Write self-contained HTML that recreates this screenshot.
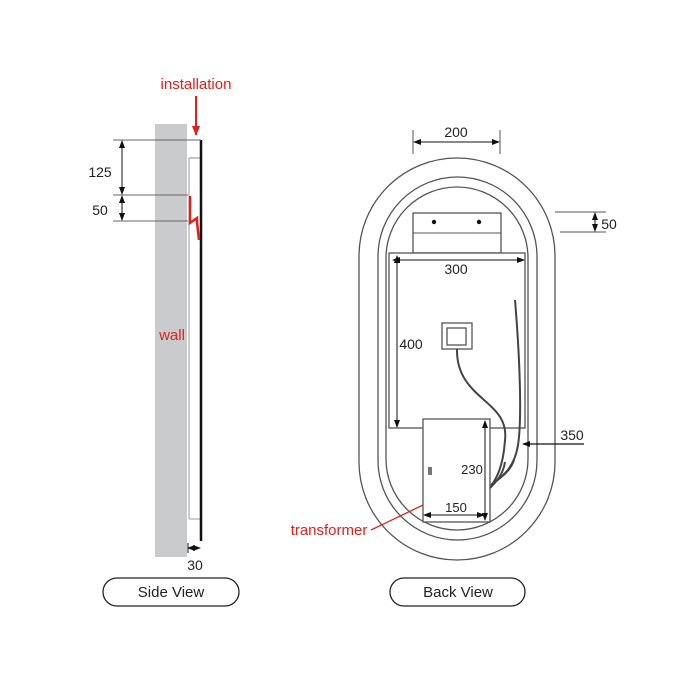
<!DOCTYPE html>
<html><head><style>body{margin:0;background:#fff}svg{display:block}</style></head><body>
<svg width="700" height="700" viewBox="0 0 700 700" xmlns="http://www.w3.org/2000/svg" font-family="Liberation Sans, sans-serif">
<defs>
<marker id="a" markerWidth="8" markerHeight="8" refX="7" refY="4" orient="auto-start-reverse" markerUnits="userSpaceOnUse"><path d="M0,1 L8,4 L0,7 Z" fill="#111"/></marker>
<marker id="r" markerWidth="10" markerHeight="10" refX="9" refY="5" orient="auto" markerUnits="userSpaceOnUse"><path d="M0,1 L10,5 L0,9 Z" fill="#e0201c"/></marker>
</defs>
<!-- Side view -->
<rect x="155" y="124" width="32" height="433" fill="#c9cbcd"/>
<polyline points="189,158 201,158" stroke="#888" fill="none"/>
<line x1="189" y1="158" x2="189" y2="519" stroke="#999"/>
<line x1="189" y1="519" x2="201" y2="519" stroke="#999"/>
<line x1="201" y1="140" x2="201" y2="541" stroke="#111" stroke-width="2.5"/>
<line x1="113" y1="140" x2="201" y2="140" stroke="#666"/>
<line x1="113" y1="195" x2="188" y2="195" stroke="#666"/>
<line x1="113" y1="221" x2="188" y2="221" stroke="#666"/>
<line x1="122" y1="141" x2="122" y2="194" stroke="#111" marker-start="url(#a)" marker-end="url(#a)"/>
<line x1="122" y1="196" x2="122" y2="220" stroke="#111" marker-start="url(#a)" marker-end="url(#a)"/>
<text x="100" y="177" font-size="14" text-anchor="middle" fill="#222">125</text>
<text x="100" y="215" font-size="14" text-anchor="middle" fill="#222">50</text>
<polyline points="190,196 190,223 197,218 197,222 199,240" stroke="#e0201c" stroke-width="2.5" fill="none"/>
<text x="196" y="89" font-size="15" text-anchor="middle" fill="#e0201c">installation</text>
<line x1="196" y1="96" x2="196" y2="135" stroke="#e0201c" stroke-width="2" marker-end="url(#r)"/>
<text x="172" y="340" font-size="15" text-anchor="middle" fill="#e0201c">wall</text>
<line x1="188" y1="548" x2="200" y2="548" stroke="#111" stroke-width="0.8" marker-start="url(#a)" marker-end="url(#a)"/>
<line x1="188" y1="543" x2="188" y2="553" stroke="#111"/>
<text x="195" y="570" font-size="14" text-anchor="middle" fill="#222">30</text>
<rect x="103" y="578" width="136" height="28" rx="14" fill="#fff" stroke="#222" stroke-width="1.3"/>
<text x="171" y="597" font-size="15" text-anchor="middle" fill="#222">Side View</text>
<!-- Back view -->
<rect x="359" y="158" width="196" height="402" rx="98" fill="none" stroke="#555" stroke-width="1.3"/>
<rect x="378" y="177" width="159" height="363" rx="79.5" fill="none" stroke="#555" stroke-width="1.3"/>
<rect x="386" y="187" width="142" height="343" rx="71" fill="none" stroke="#555" stroke-width="1.3"/>
<line x1="413" y1="130" x2="413" y2="154" stroke="#555"/>
<line x1="500" y1="130" x2="500" y2="154" stroke="#555"/>
<line x1="414" y1="142" x2="499" y2="142" stroke="#111" marker-start="url(#a)" marker-end="url(#a)"/>
<text x="456" y="137" font-size="14" text-anchor="middle" fill="#222">200</text>
<rect x="413" y="213" width="88" height="40" fill="#fff" stroke="#555" stroke-width="1.3"/>
<line x1="413" y1="233" x2="501" y2="233" stroke="#555"/>
<circle cx="434" cy="222" r="2.2" fill="#111"/><circle cx="479" cy="222" r="2.2" fill="#111"/>
<line x1="555" y1="212" x2="606" y2="212" stroke="#555"/>
<line x1="560" y1="232" x2="606" y2="232" stroke="#555"/>
<line x1="595" y1="213" x2="595" y2="231" stroke="#111" marker-start="url(#a)" marker-end="url(#a)"/>
<text x="609" y="229" font-size="14" text-anchor="middle" fill="#222">50</text>
<rect x="389" y="253" width="136" height="175" fill="#fff" stroke="#555" stroke-width="1.3"/>
<line x1="393" y1="260" x2="524" y2="260" stroke="#111" marker-start="url(#a)" marker-end="url(#a)"/>
<text x="456" y="274" font-size="14" text-anchor="middle" fill="#222">300</text>
<line x1="397" y1="256" x2="397" y2="427" stroke="#111" marker-start="url(#a)" marker-end="url(#a)"/>
<text x="411" y="349" font-size="14" text-anchor="middle" fill="#222">400</text>
<rect x="442" y="323" width="30" height="26" fill="#fff" stroke="#555" stroke-width="1.3"/>
<rect x="447" y="328" width="19" height="17" fill="#fff" stroke="#555" stroke-width="1.3"/>
<path d="M457,349 C456,400 510,400 505,440 C503,470 495,480 490,488" stroke="#444" stroke-width="2" fill="none"/>
<path d="M515,300 C520,360 522,420 518,445 C514,470 500,478 491,485" stroke="#444" stroke-width="2" fill="none"/>
<rect x="423" y="419" width="67" height="103" fill="#fff" stroke="#555" stroke-width="1.3"/>
<path d="M490,488 C496,482 503,475 505,462" stroke="#444" stroke-width="2" fill="none"/>
<path d="M491,485 C500,478 510,472 514,460" stroke="#444" stroke-width="2" fill="none"/>
<rect x="428" y="467" width="4" height="8" fill="#777"/>
<line x1="485" y1="421" x2="485" y2="520" stroke="#111" marker-start="url(#a)" marker-end="url(#a)"/>
<text x="472" y="474" font-size="13" text-anchor="middle" fill="#222">230</text>
<line x1="424" y1="515" x2="484" y2="515" stroke="#111" marker-start="url(#a)" marker-end="url(#a)"/>
<text x="456" y="512" font-size="13" text-anchor="middle" fill="#222">150</text>
<line x1="584" y1="444" x2="523" y2="444" stroke="#111" stroke-width="1.3" marker-end="url(#a)"/>
<text x="572" y="440" font-size="14" text-anchor="middle" fill="#222">350</text>
<line x1="371" y1="530" x2="423" y2="505" stroke="#e0201c" stroke-width="1.3"/>
<text x="329" y="535" font-size="15" text-anchor="middle" fill="#e0201c">transformer</text>
<rect x="390" y="578" width="135" height="28" rx="14" fill="#fff" stroke="#222" stroke-width="1.3"/>
<text x="458" y="597" font-size="15" text-anchor="middle" fill="#222">Back View</text>
</svg>
</body></html>
